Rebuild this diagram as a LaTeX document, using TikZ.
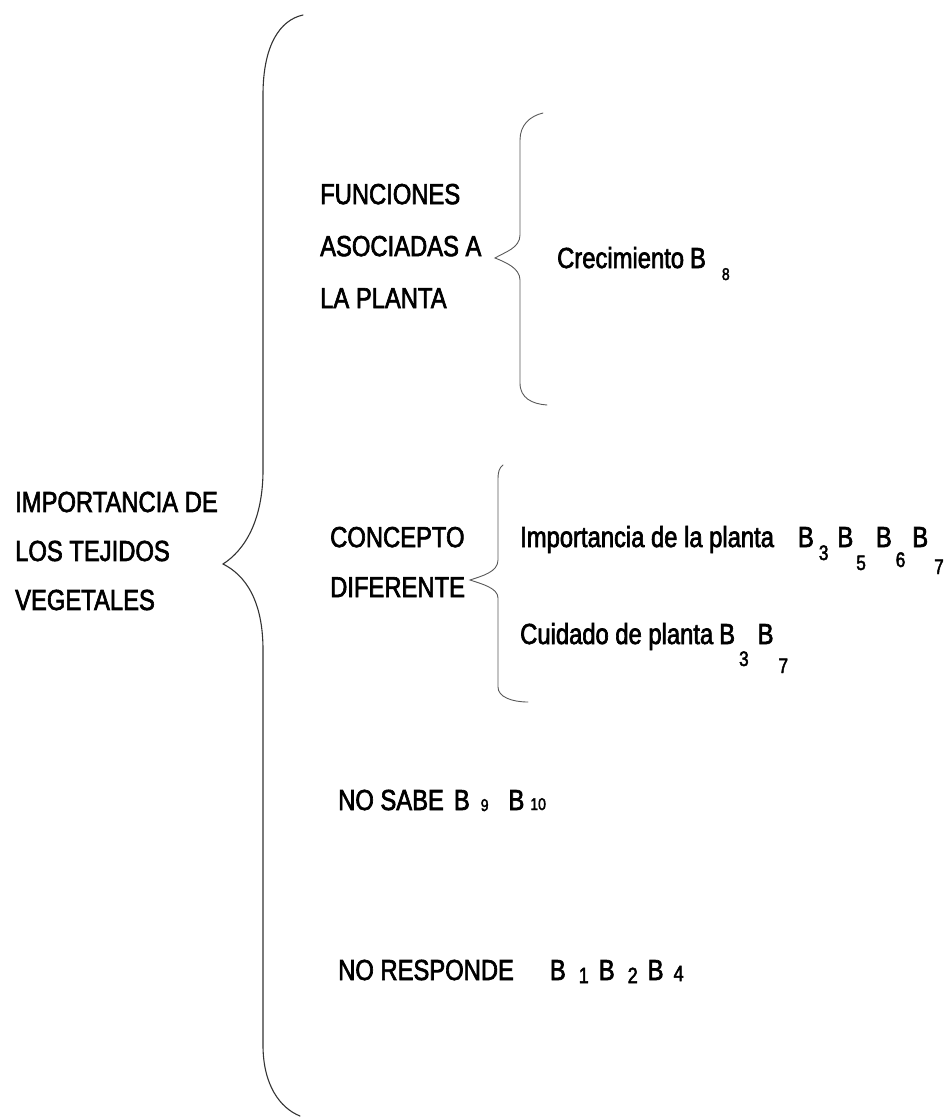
\documentclass[tikz,border=0pt]{standalone}
\usepackage{fontspec}
\setmainfont[FakeStretch=0.82,FakeBold=2.2]{Liberation Sans}
\usetikzlibrary{positioning}
% B con subindice: [tamano]{digito}{separacion}{bajada}
\newcommand{\Bsub}[4][21]{B\kern#3\raisebox{-#4}{\fontsize{#1}{#1}\selectfont #2}}

\begin{document}
\begin{tikzpicture}[x=1pt,y=-1pt,
  etiqueta/.style={anchor=west, inner sep=0pt, align=left, font=\fontsize{29}{49}\selectfont},
  texto/.style={anchor=west, inner sep=0pt, text height=20pt, text depth=0pt, font=\fontsize{29}{34}\selectfont},
  llave/.style={draw=black!80, line width=1.1pt, line cap=round},
  llavechica/.style={draw=black!65, line width=0.9pt, line cap=round},
]
\useasboundingbox (0,0) rectangle (948,1119);

% textos
\node[etiqueta] (tema) at (15,551) {IMPORTANCIA DE\\LOS TEJIDOS\\VEGETALES};
\node[etiqueta, font=\fontsize{29}{52}\selectfont] (funciones) at (320,246) {FUNCIONES\\ASOCIADAS A\\LA PLANTA};
\node[etiqueta, font=\fontsize{29}{50}\selectfont] (concepto) at (330,562) {CONCEPTO\\DIFERENTE};
\node[texto] (crecimiento) at (557,258) {Crecimiento\hspace{6pt}\Bsub[17]{8}{16pt}{12pt}};
\node[texto] (importancia) at (520,537) {Importancia de la planta\hspace{24pt}\Bsub{3}{5pt}{13pt}\hspace{9pt}\Bsub{5}{3pt}{23pt}\hspace{10pt}\Bsub{6}{4pt}{20pt}\hspace{7pt}\Bsub{7}{6pt}{27pt}};
\node[texto] (cuidado) at (520,634) {Cuidado de planta\hspace{6pt}\Bsub{3}{4pt}{22pt}\hspace{9pt}\Bsub{7}{5pt}{29pt}};
\node[texto] (nosabe) at (338,800) {NO SABE\hspace{10pt}\Bsub[17]{9}{11pt}{1pt}\hspace{20pt}\Bsub[17]{10}{6pt}{0pt}};
\node[texto] (noresponde) at (338,970) {NO RESPONDE\hspace{36pt}\Bsub[22]{1}{13pt}{3pt}\hspace{10pt}\Bsub[22]{2}{13pt}{3pt}\hspace{10pt}\Bsub[22]{4}{10pt}{1pt}};

% llave grande
\coordinate (a1) at (303,15);
\coordinate (p1) at (223,564);
\coordinate (b1) at (300,1116);
\draw[llave] (a1) .. controls (280,20) and (263,45) .. (263,95) -- (263,470)
  .. controls (263,520) and (245,550) .. (p1)
  .. controls (245,575) and (263,600) .. (263,650) -- (263,1045)
  .. controls (263,1085) and (280,1108) .. (b1);

% llave de funciones
\coordinate (a2) at (543,113);
\coordinate (p2) at (495,258);
\coordinate (b2) at (547,405);
\draw[llavechica] (a2) .. controls (530,116) and (520,125) .. (520,140) -- (520,235)
  .. controls (520,248) and (505,252) .. (p2)
  .. controls (505,262) and (520,268) .. (520,280) -- (520,383)
  .. controls (520,398) and (532,404) .. (b2);

% llave de concepto
\coordinate (a3) at (503,465);
\coordinate (p3) at (470,580);
\coordinate (b3) at (528,702);
\draw[llavechica] (a3) .. controls (499,468) and (498,472) .. (498,480) -- (498,560)
  .. controls (498,572) and (482,576) .. (p3)
  .. controls (482,584) and (498,588) .. (498,598) -- (498,687)
  .. controls (498,697) and (512,702) .. (b3);
\end{tikzpicture}
\end{document}
